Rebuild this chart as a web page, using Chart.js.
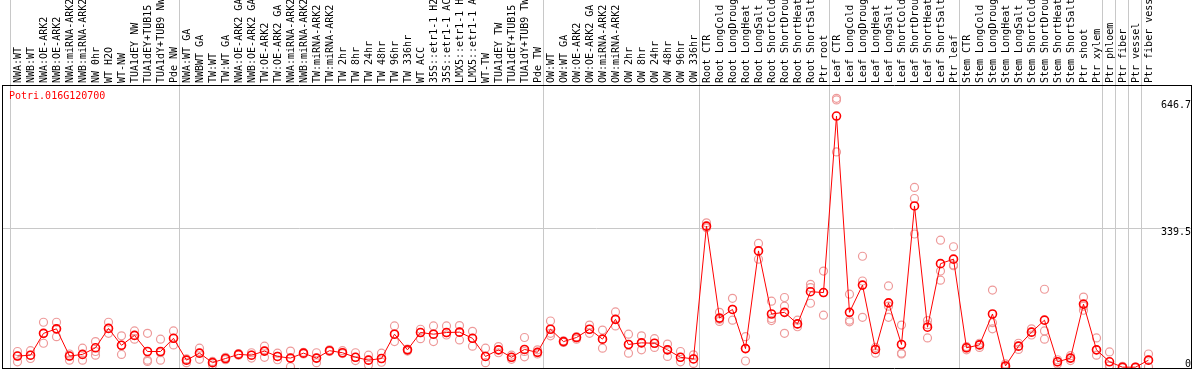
<!DOCTYPE html>
<html><head><meta charset="utf-8">
<script src="https://cdn.jsdelivr.net/npm/chart.js@4/dist/chart.umd.min.js"></script>
<style>
html,body{margin:0;padding:0;background:#fff;overflow:hidden;}
#wrap{position:relative;width:1194px;height:370px;}
#title{position:absolute;left:9px;top:90px;font:10px "DejaVu Sans Mono";color:#ff0000;line-height:12px;white-space:pre;}
</style></head><body>
<div id="wrap"><canvas id="c" width="1194" height="370"></canvas><div id="title">Potri.016G120700</div></div>
<script>
const categories = [
 "NWA:WT","NWB:WT","NWA:OE-ARK2","NWB:OE-ARK2","NWA:miRNA-ARK2","NWB:miRNA-ARK2","NW 0hr","WT H2O","WT-NW","TUA1dEY NW","TUA1dEY+TUB15 ","TUA1dY+TUB9 NW","Pde NW",
 "NWA:WT GA","NWBWT GA","TW:WT","TW:WT GA","NWA:OE-ARK2 GA","NWB:OE-ARK2 GA","TW:OE-ARK2","TW:OE-ARK2 GA","NWA:miRNA-ARK2","NWB:miRNA-ARK2","TW:miRNA-ARK2","TW:miRNA-ARK2","TW 2hr","TW 8hr","TW 24hr","TW 48hr","TW 96hr","TW 336hr","WT ACC","35S::etr1-1 H2","35S::etr1-1 AC","LMX5::etr1-1 H","LMX5::etr1-1 A","WT-TW","TUA1dEY TW","TUA1dEY+TUB15 ","TUA1dY+TUB9 TW","Pde TW",
 "OW:WT","OW:WT GA","OW:OE-ARK2","OW:OE-ARK2 GA","OW:miRNA-ARK2","OW:miRNA-ARK2","OW 2hr","OW 8hr","OW 24hr","OW 48hr","OW 96hr","OW 336hr",
 "Root CTR","Root LongCold","Root LongDroug","Root LongHeat","Root LongSalt","Root ShortCold","Root ShortDrou","Root ShortHeat","Root ShortSalt","Ptr root",
 "Leaf CTR","Leaf LongCold","Leaf LongDroug","Leaf LongHeat","Leaf LongSalt","Leaf ShortCold","Leaf ShortDrou","Leaf ShortHeat","Leaf ShortSalt","Ptr leaf",
 "Stem CTR","Stem LongCold","Stem LongDroug","Stem LongHeat","Stem LongSalt","Stem ShortCold","Stem ShortDrou","Stem ShortHeat","Stem ShortSalt","Ptr shoot","Ptr xylem",
 "Ptr phloem","Ptr fiber","Ptr vessel","Ptr fiber vess"
];
const meanValues = [
 29,31,84,95,29,33,49,96,55,79,40,40,72,
 19,36,13,23,33,31,41,28,24,36,24,42,37,26,19,23,82,44,86,82,86,87,72,28,44,26,45,38,
 94,64,74,94,70,118,57,61,60,44,26,22,
 344,121,142,47,284,131,135,107,185,183,
 611,135,201,45,158,57,393,99,253,264,
 49,56,131,5,53,87,116,15,24,155,44,
 15,2,2,19
];
const rep1 = [
 40,42,111,111,34,48,64,111,78,90,84,70,90,
 22,48,16,26,35,37,53,36,41,38,37,42,42,37,31,36,102,46,94,102,102,103,89,48,52,31,74,44,
 114,64,70,104,92,136,82,78,71,58,40,32,
 352,135,169,76,302,162,171,116,203,235,
 654,179,271,36,199,104,438,115,310,294,
 52,60,189,10,60,95,191,20,30,172,73,
 39,2,2,34
];
const rep2 = [
 15,23,60,76,19,19,31,84,33,70,19,37,56,
 13,21,7,20,31,24,26,20,3,34,13,44,35,18,7,14,64,41,71,64,80,68,53,13,37,21,40,34,
 78,66,76,84,48,102,36,44,50,28,15,11,
 340,113,116,17,264,115,150,100,195,128,
 650,116,211,50,123,34,411,73,235,250,
 44,50,110,2,45,80,90,10,18,150,31,
 6,0,0,3
];
const rep3 = [
 29,31,84,95,29,33,40,96,55,79,16,19,72,
 19,36,13,23,33,31,41,28,24,36,24,40,37,26,19,23,82,44,86,82,86,87,72,28,44,26,27,38,
 84,62,74,94,70,118,57,61,60,44,26,22,
 344,118,142,47,284,120,84,107,157,183,
 524,112,123,45,150,36,325,105,213,248,
 49,56,95,5,53,87,70,15,24,140,44,
 5,4,1,19
];
const yTickValues = [0, 339.5, 646.7];
const yTickLabels = ["0", "339.5", "646.7"];
const groupBoundaries = [0, 13, 41, 53, 63, 73, 84, 85, 86, 87, 88];

const XFONT = {family: "DejaVu Sans Mono", size: 10, lineHeight: 1.2};
const YFONT = {family: "DejaVu Sans Mono", size: 10, lineHeight: 1.6};
const GRID = "#c8c8c8";
const NONE = "rgba(0,0,0,0)";

const meanPts = meanValues.map((v, i) => ({x: i + 1, y: v}));
const repPts = [rep1, rep2, rep3].flatMap(arr => arr.map((v, i) => ({x: i + 1, y: v})));

function noPad(s) { s.paddingTop = 0; s.paddingBottom = 0; s.paddingLeft = 0; s.paddingRight = 0; }

new Chart(document.getElementById('c'), {
  type: 'line',
  data: {
    datasets: [
      {
        label: 'mean', data: meanPts, xAxisID: 'x', yAxisID: 'y', order: 0,
        borderColor: '#ff0000', borderWidth: 1, tension: 0,
        pointRadius: 4, pointBorderWidth: 1.6, pointBorderColor: '#ff0000',
        pointBackgroundColor: NONE, pointStyle: 'circle'
      },
      {
        label: 'replicates', data: repPts, xAxisID: 'x', yAxisID: 'y', order: 1,
        showLine: false, borderColor: '#ee9a9a',
        pointRadius: 4, pointBorderWidth: 1.2, pointBorderColor: '#ee9a9a',
        pointBackgroundColor: NONE
      }
    ]
  },
  options: {
    responsive: false, animation: false, events: [],
    layout: {autoPadding: false, padding: {left: 1, right: 1, top: 0, bottom: 1}},
    plugins: {legend: {display: false}, tooltip: {enabled: false}, title: {display: false}},
    scales: {
      x: {
        type: 'linear', position: 'top', min: -0.1923, max: 91.27,
        afterBuildTicks: s => { s.ticks = categories.map((c, i) => ({value: i + 1})); },
        afterFit: s => { s.height = 85; noPad(s); },
        ticks: {
          autoSkip: false, maxRotation: 90, minRotation: 90, padding: -83, labelOffset: 13,
          font: XFONT, color: '#000',
          callback: (v, i) => categories[i]
        },
        grid: {
          offset: true, tickLength: 85, lineWidth: 1,
          color: ctx => groupBoundaries.includes(ctx.index) ? GRID : NONE
        },
        border: {display: true, color: '#000', width: 1}
      },
      xb: {
        type: 'linear', position: 'bottom', display: true,
        afterFit: s => { s.height = 1; noPad(s); },
        ticks: {display: false},
        grid: {display: true, drawOnChartArea: false, drawTicks: false, color: NONE},
        border: {display: true, color: '#000', width: 1}
      },
      y: {
        type: 'linear', position: 'right', min: 0, max: 686.3,
        afterBuildTicks: s => { s.ticks = yTickValues.map(v => ({value: v})); },
        afterFit: s => { s.width = 2; noPad(s); },
        ticks: {
          mirror: true, padding: 0, labelOffset: 4, font: YFONT, color: '#000',
          callback: (v, i) => i === 0 ? [yTickLabels[0], ''] : yTickLabels[i]
        },
        grid: {
          drawTicks: false, lineWidth: 1,
          color: ctx => (ctx.tick && ctx.tick.value === 339.5) ? GRID : NONE
        },
        border: {display: true, color: '#000', width: 1}
      },
      yl: {
        type: 'linear', position: 'left', display: true,
        afterFit: s => { s.width = 1; noPad(s); },
        ticks: {display: false},
        grid: {display: true, drawOnChartArea: false, drawTicks: false, color: NONE},
        border: {display: true, color: '#000', width: 1}
      }
    }
  }
});
</script>
</body></html>
